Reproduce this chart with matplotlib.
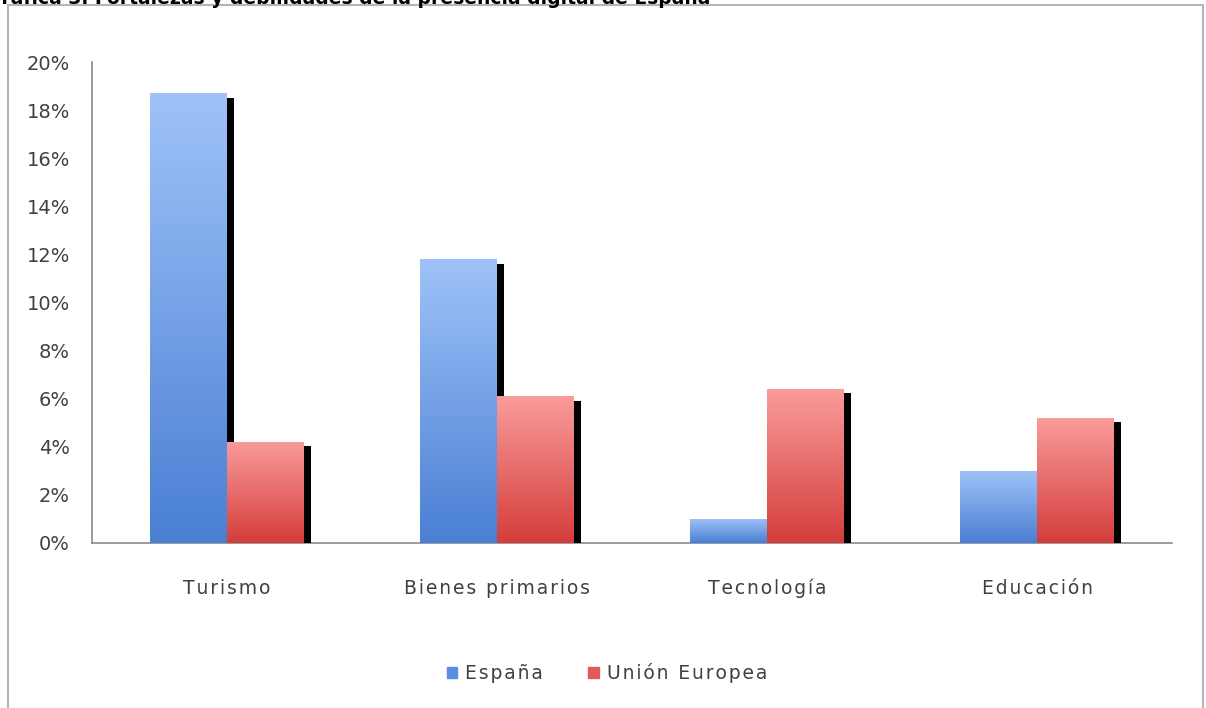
import matplotlib
matplotlib.use("Agg")
import matplotlib.pyplot as plt
import numpy as np
from matplotlib.patches import Rectangle
from matplotlib.colors import LinearSegmentedColormap

categories = ["Turismo", "Bienes primarios", "Tecnología", "Educación"]
series_names = ["España", "Unión Europea"]
espana = [18.7, 11.8, 1.0, 3.0]
ue = [4.2, 6.1, 6.4, 5.2]
yticks = [0, 2, 4, 6, 8, 10, 12, 14, 16, 18, 20]
ytick_labels = [f"{v}%" for v in yticks]
title = "Gráfica 3. Fortalezas y debilidades de la presencia digital de España"

HS = "\u200a"


def spaced(s):
    return HS.join(list(s))


W, H = 1206, 708
fig = plt.figure(figsize=(W / 100, H / 100), dpi=100)
fig.patch.set_facecolor("white")

# outer chart frame (bottom cut off)
fig.add_artist(Rectangle((8 / W, -0.05), (1203 - 8) / W, 1.05 - 5 / H,
                         transform=fig.transFigure, fill=False,
                         edgecolor="#b5b5b5", linewidth=1.5, zorder=0))

# cropped title (as in the reference)
fig.text(-14 / W, 1 - 4 / H, title, ha="left", va="baseline",
         fontsize=13.5, fontweight="bold", color="black")

left, right = 92 / W, 1172 / W
bottom, top = 1 - 543 / H, 1 - 62 / H
ax = fig.add_axes([left, bottom, right - left, top - bottom])

blue_cmap = LinearSegmentedColormap.from_list("b", ["#4a7fd4", "#9fc3f8"])
red_cmap = LinearSegmentedColormap.from_list("r", ["#d43d3b", "#f99c9b"])

bw = 0.285
x = np.arange(len(categories))
grad = np.linspace(0, 1, 256).reshape(-1, 1)


def draw_bars(xs, vals, cmap, z):
    bars = ax.bar(xs, vals, width=bw, color="none", edgecolor="none", zorder=z)
    for b, v in zip(bars, vals):
        x0 = b.get_x()
        ax.bar(x0 + bw + 0.0125, v - 0.18, width=0.025, bottom=0,
               color="black", zorder=z - 0.5, align="center")
        im = ax.imshow(grad, cmap=cmap, aspect="auto", origin="lower",
                       extent=[x0, x0 + bw, 0, v], zorder=z, interpolation="bilinear")
        im.set_clip_path(b)
    return bars


draw_bars(x - bw / 2, espana, blue_cmap, 3)
draw_bars(x + bw / 2, ue, red_cmap, 4)
ax.set_xlim(-0.5, len(categories) - 0.5)
ax.set_ylim(0, 20)

ax.set_yticks(yticks)
ax.set_yticklabels(ytick_labels)
ax.set_xticks(x)
ax.set_xticklabels([spaced(c) for c in categories], va="baseline")
ax.tick_params(axis="both", length=0, colors="#404040")
ax.tick_params(axis="y", pad=16, labelsize=14)
ax.tick_params(axis="x", pad=36.5, labelsize=13.5)
for s in ["top", "right"]:
    ax.spines[s].set_visible(False)
for s in ["left", "bottom"]:
    ax.spines[s].set_color("#8a8a8a")
    ax.spines[s].set_linewidth(1.2)
ax.set_facecolor("white")

handles = [Rectangle((0, 0), 1, 1, color="#5a8ee0"),
           Rectangle((0, 0), 1, 1, color="#e05a58")]
fig.legend(handles, [spaced(s) for s in series_names], loc="center",
           bbox_to_anchor=(607 / W, 1 - 673 / H),
           ncol=2, frameon=False, fontsize=13.5, handlelength=0.55, handleheight=0.55,
           handletextpad=0.45, columnspacing=2.4, labelcolor="#404040")

fig.savefig("out.png", dpi=100)
